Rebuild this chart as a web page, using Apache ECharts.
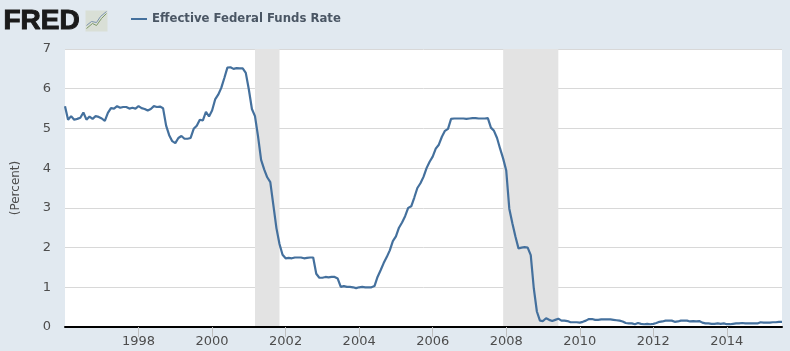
<!DOCTYPE html>
<html>
<head>
<meta charset="utf-8">
<style>
html,body{margin:0;padding:0;background:#e1e9f0;}
#chart{width:790px;height:351px;}
</style>
<script src="https://cdn.jsdelivr.net/npm/echarts@6/dist/echarts.min.js"></script>
</head>
<body>
<div id="chart"></div>
<script>
// monthly values, percent
const rate1996 = [5.56,5.22,5.31,5.22,5.24,5.27,5.40,5.22,5.30,5.24,5.31,5.29];
const rate1997 = [5.25,5.19,5.39,5.51,5.50,5.56,5.52,5.54,5.54,5.50,5.52,5.50];
const rate1998 = [5.56,5.51,5.49,5.45,5.49,5.56,5.54,5.55,5.51,5.07,4.83,4.68];
const rate1999 = [4.63,4.76,4.81,4.74,4.74,4.76,4.99,5.07,5.22,5.20,5.42,5.30];
const rate2000 = [5.45,5.73,5.85,6.02,6.27,6.53,6.54,6.50,6.52,6.51,6.51,6.40];
const rate2001 = [5.98,5.49,5.31,4.80,4.21,3.97,3.77,3.65,3.07,2.49,2.09,1.82];
const rate2002 = [1.73,1.74,1.73,1.75,1.75,1.75,1.73,1.74,1.75,1.75,1.34,1.24];
const rate2003 = [1.24,1.26,1.25,1.26,1.26,1.22,1.01,1.03,1.01,1.01,1.00,0.98];
const rate2004 = [1.00,1.01,1.00,1.00,1.00,1.03,1.26,1.43,1.61,1.76,1.93,2.16];
const rate2005 = [2.28,2.50,2.63,2.79,3.00,3.04,3.26,3.50,3.62,3.78,4.00,4.16];
const rate2006 = [4.29,4.49,4.59,4.79,4.94,4.99,5.24,5.25,5.25,5.25,5.25,5.24];
const rate2007 = [5.25,5.26,5.26,5.25,5.25,5.25,5.26,5.02,4.94,4.76,4.49,4.24];
const rate2008 = [3.94,2.98,2.61,2.28,1.98,2.00,2.01,2.00,1.81,0.97,0.39,0.16];
const rate2009 = [0.15,0.22,0.18,0.15,0.18,0.21,0.16,0.16,0.15,0.12,0.12,0.12];
const rate2010 = [0.11,0.13,0.16,0.20,0.20,0.18,0.18,0.19,0.19,0.19,0.19,0.18];
const rate2011 = [0.17,0.16,0.14,0.10,0.09,0.09,0.07,0.10,0.08,0.07,0.08,0.07];
const rate2012 = [0.08,0.10,0.13,0.14,0.16,0.16,0.16,0.13,0.14,0.16,0.16,0.16];
const rate2013 = [0.14,0.15,0.14,0.15,0.11,0.09,0.09,0.08,0.08,0.09,0.08,0.09];
const rate2014 = [0.07,0.07,0.08,0.09,0.09,0.10,0.09,0.09,0.09,0.09,0.09,0.12];
const rate2015 = [0.11,0.11,0.11,0.12,0.12,0.13,0.13];

const rates = [].concat(rate1996,rate1997,rate1998,rate1999,rate2000,rate2001,rate2002,
	rate2003,rate2004,rate2005,rate2006,rate2007,rate2008,rate2009,rate2010,rate2011,
	rate2012,rate2013,rate2014,rate2015);

const tickYears = ["1998","2000","2002","2004","2006","2008","2010","2012","2014"];
const recessions = [["2001-03","2001-11"],["2007-12","2009-06"]];
const seriesName = "Effective Federal Funds Rate";
const yAxisName = "(Percent)";

const months = rates.map(function(v,i){
	let y = 1996 + Math.floor(i/12);
	let m = i%12 + 1;
	return y + "-" + (m<10 ? "0"+m : m);
});
function isTick(i,name){
	return name.slice(5)=="01" && tickYears.indexOf(name.slice(0,4))>=0;
}

const chart = echarts.init(document.getElementById("chart"),null,{renderer:"canvas"});
const fontName = "'DejaVu Sans'";
chart.setOption({
	animation:false,
	backgroundColor:"#e1e9f0",
	textStyle:{fontFamily:fontName},
	legend:{
		left:126,
		top:8,
		itemWidth:16,
		itemHeight:2,
		itemGap:5,
		icon:"rect",
		data:[seriesName],
		textStyle:{fontFamily:fontName,fontSize:11.7,fontWeight:"bold",color:"#4a5664"}
	},
	grid:{left:65,right:8,top:49,bottom:24,show:true,backgroundColor:"#ffffff",borderWidth:0,outerBoundsMode:"none"},
	xAxis:{
		type:"category",
		data:months,
		boundaryGap:false,
		z:5,
		axisLine:{show:true,onZero:false,lineStyle:{color:"#000000",width:2}},
		axisTick:{show:true,length:10,interval:isTick,lineStyle:{color:"#c0c0c0",width:1}},
		axisLabel:{
			interval:isTick,
			formatter:function(v){return v.slice(0,4);},
			color:"#4d4d4d",
			fontSize:13,
			margin:8,
			hideOverlap:false
		},
		splitLine:{show:false}
	},
	yAxis:{
		type:"value",
		min:0,
		max:7,
		interval:1,
		name:yAxisName,
		nameLocation:"middle",
		nameGap:43,
		nameTextStyle:{color:"#4d4d4d",fontSize:12},
		axisLine:{show:false},
		axisTick:{show:false},
		axisLabel:{color:"#4d4d4d",fontSize:13,margin:14,align:"right"},
		splitLine:{lineStyle:{color:"#d8d8d8",width:1}}
	},
	series:[{
		name:seriesName,
		type:"line",
		data:rates,
		showSymbol:false,
		smooth:false,
		z:3,
		lineStyle:{color:"#44709d",width:2.2},
		itemStyle:{color:"#44709d"},
		markArea:{
			silent:true,
			itemStyle:{color:"#e3e3e3"},
			data:recessions.map(function(r){return [{xAxis:r[0]},{xAxis:r[1]}];})
		}
	}],
	graphic:[
		{type:"text",left:3,top:7,style:{text:"FRED",fontFamily:"'Liberation Sans'",fontSize:28,fontWeight:"bold",fill:"#1a1a1a",stroke:"#1a1a1a",lineWidth:1}},
		{type:"group",left:84,top:9,children:[
			{type:"rect",shape:{x:0,y:0,width:22,height:21},style:{fill:"#d9dfd6"}},
			{type:"polyline",shape:{points:[[1,18],[7,13],[11,15],[16,8],[21,3]]},style:{stroke:"#7f9a6a",fill:"none",lineWidth:1}},
			{type:"polyline",shape:{points:[[1,15],[6,11],[11,12],[15,6],[21,1]]},style:{stroke:"#7b93ad",fill:"none",lineWidth:1}}
		]}
	]
});
</script>
</body>
</html>
